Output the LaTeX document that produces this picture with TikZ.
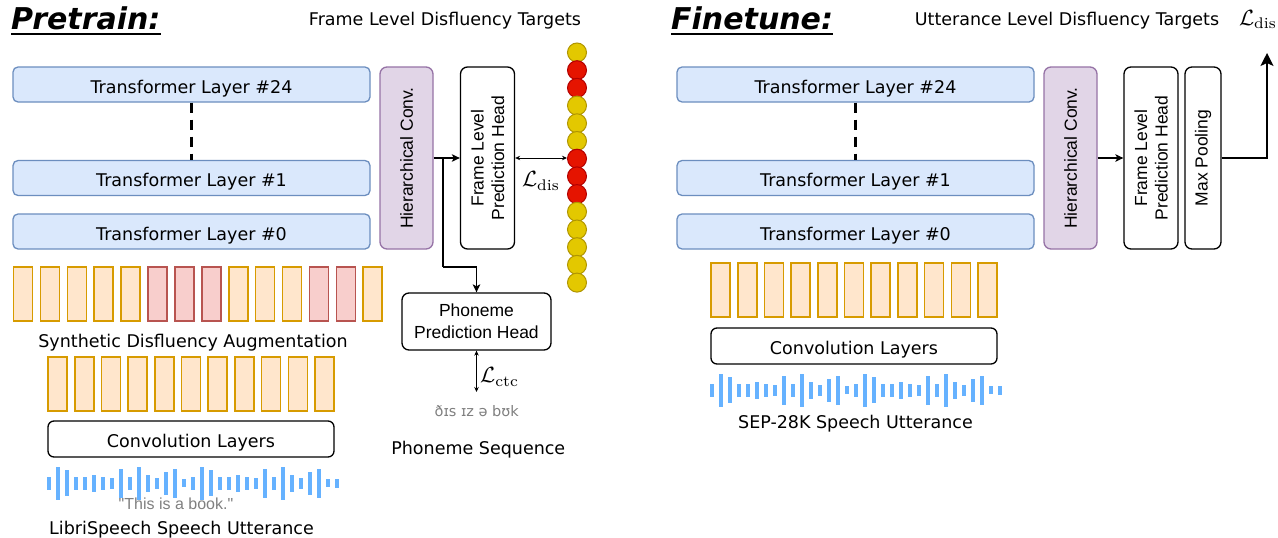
\documentclass[tikz,border=0pt]{standalone}
\usepackage{graphicx}
\usepackage{fontspec}
\newfontfamily\dv{DejaVu Sans}
\newfontfamily\lib{Liberation Sans}
\newfontfamily\libq{Liberation Sans}[Ligatures=TeXOff]
\usetikzlibrary{arrows.meta}
\definecolor{tfill}{HTML}{DAE8FC}
\definecolor{tdraw}{HTML}{6C8EBF}
\definecolor{pfill}{HTML}{E1D5E7}
\definecolor{pdraw}{HTML}{9673A6}
\definecolor{ofill}{HTML}{FFE6CC}
\definecolor{odraw}{HTML}{D79B00}
\definecolor{rfill}{HTML}{F8CECC}
\definecolor{rdraw}{HTML}{B85450}
\definecolor{yfill}{HTML}{E3C800}
\definecolor{ydraw}{HTML}{B09500}
\definecolor{cfill}{HTML}{E51400}
\definecolor{cdraw}{HTML}{B20000}
\definecolor{wave}{HTML}{66B2FF}
\definecolor{gtext}{HTML}{808080}
\newcommand\myfs[1]{\fontsize{#1}{#1}\selectfont}
\newcommand\bigloss[1]{\scalebox{2.2}{\fontsize{10}{12}\selectfont$\mathcal{L}_{\mathrm{#1}}$}}
\begin{document}
\begin{tikzpicture}[x=1pt,y=-1pt,
  tlayer/.style={draw=tdraw, fill=tfill, line width=1.3pt, rounded corners=5pt,
    minimum width=357pt, minimum height=35pt, inner sep=0pt, font=\dv\myfs{17.5},
    text height=17.6pt, text depth=0pt},
  hconvbox/.style={draw=pdraw, fill=pfill, line width=1.3pt, rounded corners=7pt,
    minimum width=53pt, minimum height=182pt, inner sep=0pt},
  headbox/.style={draw=black, fill=white, line width=1.3pt, rounded corners=7pt, inner sep=0pt},
  rottext/.style={rotate=90, inner sep=0pt, align=center, font=\lib\fontsize{17.5}{20.5}\selectfont},
  plain/.style={inner sep=0pt, font=\dv\myfs{17.5}},
  obar/.style={draw=odraw, fill=ofill, line width=1.6pt},
  rbar/.style={draw=rdraw, fill=rfill, line width=1.6pt},
  circy/.style={circle, minimum size=19pt, inner sep=0pt, draw=ydraw, fill=yfill, line width=1pt},
  circr/.style={circle, minimum size=19pt, inner sep=0pt, draw=cdraw, fill=cfill, line width=1pt},
  arr/.style={line width=1.4pt, -{Stealth[length=8pt,width=7.5pt,inset=2pt]}},
  bigarr/.style={line width=1.4pt, -{Stealth[length=13pt,width=13pt,inset=3pt]}},
  darr/.style={line width=0.8pt, {Stealth[length=5pt,width=4.5pt]}-{Stealth[length=5pt,width=4.5pt]}},
  dashline/.style={line width=3pt, dash pattern=on 10pt off 7pt},
  ttl/.style={anchor=base west, inner sep=0pt, font=\dv\bfseries\itshape\myfs{30}},
  lossl/.style={inner sep=0pt}
]
\useasboundingbox[fill=white] (0,0) rectangle (1278,538);

% ================= PRETRAIN =================
\node[ttl] (pt) at (11,29.3) {Pretrain:};
\draw[line width=2pt] ([yshift=-5pt]pt.base west) -- ([yshift=-5pt]pt.base east);
\node[plain, anchor=base] (ftgt) at (445,25) {Frame Level Disfluency Targets};

\node[tlayer] (t24) at (191.5,84.5) {Transformer Layer \#24};
\node[tlayer] (t1) at (191.5,178) {Transformer Layer \#1};
\node[tlayer] (t0) at (191.5,231.5) {Transformer Layer \#0};
\draw[dashline] (t24.south) -- (t1.north);

\node[hconvbox] (hc) at (406.5,158) {};
\node[rottext] (hct) at (hc.center) {Hierarchical Conv.};
\node[headbox, minimum width=54pt, minimum height=182pt] (fh) at (487.5,158) {};
\node[rottext] (fht) at (fh.center) {Frame Level\\Prediction Head};

\foreach \c [count=\i from 0] in {y,r,r,y,y,y,r,r,r,y,y,y,y,y}
  \node[circ\c] (d\i) at (577,{52.5+17.7*\i}) {};

\draw[arr] (hc.east) -- (fh.west);
\draw[darr] (fh.east) -- (fh.east -| d6.west);
\node[lossl] (ldis) at (541,181) {\bigloss{dis}};

\node[headbox, minimum width=149pt, minimum height=57pt, align=center,
  font=\lib\fontsize{17.5}{22}\selectfont] (ph) at (476.5,321.5) {Phoneme\\Prediction Head};
\coordinate (bj) at (443,158);
\coordinate (bk) at (443,267);
\draw[line width=1.4pt] (bj) -- (bk);
\draw[arr] (bk) -| (ph.north);
\coordinate (ctce) at (476.5,392);
\draw[darr] (ph.south) -- (ctce);
\node[lossl, anchor=west] (lctc) at (480,377) {\bigloss{ctc}};
\node[inner sep=0pt, anchor=base, font=\dv\myfs{14.5}, text=gtext] (phs) at (476.7,416.5) {ðɪs ɪz ə bʊk};
\node[plain, anchor=base] (phseq) at (478.3,454.5) {Phoneme Sequence};

% augmentation bars
\foreach \c [count=\i from 0] in {o,o,o,o,o,r,r,r,o,o,o,r,r,o}
  \draw[\c bar] ({13.5+26.9*\i},267) rectangle ++(19,54);
\node[plain, anchor=base] (sda) at (193,347) {Synthetic Disfluency Augmentation};
\foreach \i in {0,...,10}
  \draw[obar] ({48+26.7*\i},357) rectangle ++(19,54);
\node[headbox, rounded corners=6pt, minimum width=286pt, minimum height=36pt,
  font=\dv\myfs{17.5}, text height=16pt, text depth=0pt] (cv) at (191,439) {Convolution Layers};
\foreach \h [count=\i from 0] in {12.7,32.7,25.7,12.7,12.7,17.3,12.7,10.7,28.7,12.7,32.7,17.3,10.7,23.3,28.7,7.7,12.7,32.7,25.7,12.7,12.7,17.3,12.7,10.7,28.7,12.7,32.7,17.3,10.7,23.3,28.7,7.7,9}
  \fill[wave] ({49+9*\i-2},{483.3-\h/2}) rectangle ++(4,\h);
\node[inner sep=0pt, anchor=base, font=\libq\myfs{16}, text=gtext] (bk1) at (176,509.5) {"This is a book."};
\node[plain, anchor=base] (libri) at (181.5,534.5) {LibriSpeech Speech Utterance};

% ================= FINETUNE =================
\node[ttl] (ft) at (671,29.3) {Finetune:};
\draw[line width=2pt] ([yshift=-5pt]ft.base west) -- ([yshift=-5pt]ft.base east);
\node[plain, anchor=base] (utgt) at (1067,25) {Utterance Level Disfluency Targets};
\node[lossl, anchor=base] (ldis2) at (1258,25) {\bigloss{dis}};

\node[tlayer] (f24) at (855.5,84.5) {Transformer Layer \#24};
\node[tlayer] (f1) at (855.5,178) {Transformer Layer \#1};
\node[tlayer] (f0) at (855.5,231.5) {Transformer Layer \#0};
\draw[dashline] (f24.south) -- (f1.north);

\node[hconvbox] (hc2) at (1070.5,158) {};
\node[rottext] (hct2) at (hc2.center) {Hierarchical Conv.};
\node[headbox, minimum width=54pt, minimum height=182pt] (fh2) at (1151,158) {};
\node[rottext] (fht2) at (fh2.center) {Frame Level\\Prediction Head};
\node[headbox, minimum width=36pt, minimum height=182pt] (mp) at (1203,158) {};
\node[rottext] (mpt) at (mp.center) {Max Pooling};
\draw[arr] (hc2.east) -- (fh2.west);
\coordinate (oc) at (1267,158);
\coordinate (ot) at (1267,53);
\draw[bigarr] (mp.east) -- (oc) -- (ot);

\foreach \i in {0,...,10}
  \draw[obar] ({711+26.7*\i},263) rectangle ++(19,54);
\node[headbox, rounded corners=6pt, minimum width=286pt, minimum height=36pt,
  font=\dv\myfs{17.5}, text height=16pt, text depth=0pt] (cv2) at (854,346) {Convolution Layers};
\foreach \h [count=\i from 0] in {12.7,32.7,25.7,12.7,12.7,17.3,12.7,10.7,28.7,12.7,32.7,17.3,10.7,23.3,28.7,7.7,12.7,32.7,25.7,12.7,12.7,17.3,12.7,10.7,28.7,12.7,32.7,17.3,10.7,23.3,28.7,7.7,9}
  \fill[wave] ({712.3+9*\i-2},{390.3-\h/2}) rectangle ++(4,\h);
\node[plain, anchor=base] (sep) at (855.5,428) {SEP-28K Speech Utterance};
\end{tikzpicture}
\end{document}
